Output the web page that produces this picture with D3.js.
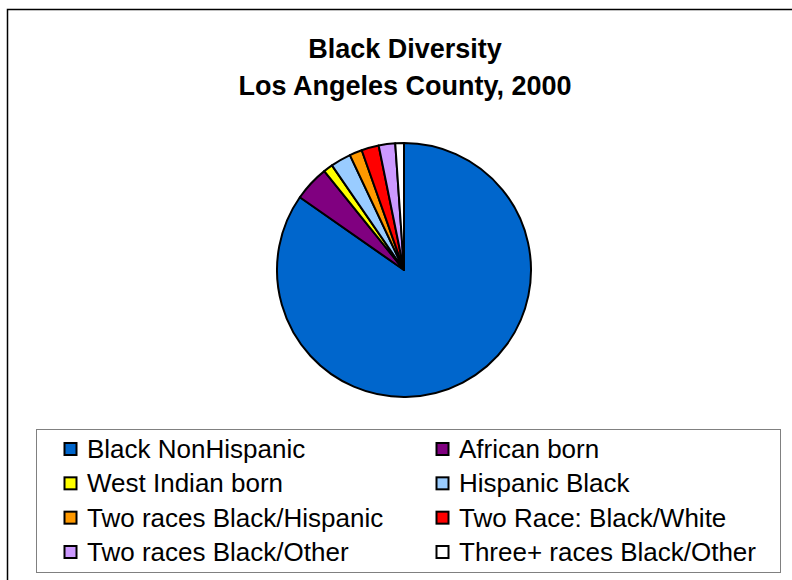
<!DOCTYPE html>
<html><head><meta charset="utf-8">
<script src="https://cdn.jsdelivr.net/npm/d3@7"></script>
<style>body{margin:0;background:#fff}svg{display:block}</style>
</head><body>
<script>
const categories = ["Black NonHispanic","African born","West Indian born","Hispanic Black","Two races Black/Hispanic","Two Race: Black/White","Two races Black/Other","Three+ races Black/Other"];
const values = [84.7, 4.5, 1.2, 2.6, 1.6, 2.2, 2.1, 1.1];
const colors = ["#0066CC","#800080","#FFFF00","#99CCFF","#FF9900","#FF0000","#CC99FF","#FFFFFF"];
const titleLines = ["Black Diversity","Los Angeles County, 2000"];

const W = 792, H = 580;
const svg = d3.select("body").append("svg").attr("width", W).attr("height", H);
svg.append("rect").attr("width", W).attr("height", H).attr("fill", "#fff");
svg.append("rect").attr("x", 7.5).attr("y", 9.5).attr("width", W + 10).attr("height", H + 10)
  .attr("fill", "none").attr("stroke", "#000").attr("stroke-width", 1.5);

const title = svg.append("text").attr("text-anchor", "middle")
  .attr("font-family", "Liberation Sans, Arial, sans-serif").attr("font-weight", "bold").attr("font-size", 27);
titleLines.forEach((t, i) => title.append("tspan").attr("x", 405).attr("y", 58 + i * 37).text(t));

const pie = d3.pie().sort(null).value(d => d)(values);
const arc = d3.arc().innerRadius(0).outerRadius(127);
const g = svg.append("g").attr("transform", "translate(404,270)");
g.selectAll("path").data(pie).join("path")
  .attr("d", arc)
  .attr("fill", (d, i) => colors[i])
  .attr("stroke", "#000").attr("stroke-width", 2).attr("stroke-linejoin", "round");

svg.append("rect").attr("x", 36.5).attr("y", 429.5).attr("width", 744).attr("height", 143)
  .attr("fill", "#fff").attr("stroke", "#808080").attr("stroke-width", 1);

const colX = [64, 436];
const rowY = d3.scalePoint().domain(d3.range(4)).range([449, 552]);
const items = svg.selectAll("g.li").data(categories).join("g").attr("class", "li")
  .attr("transform", (d, i) => `translate(${colX[i % 2]},${rowY(Math.floor(i / 2))})`);
items.append("rect").attr("x", 0.5).attr("y", -6).attr("width", 12).attr("height", 12)
  .attr("fill", (d, i) => colors[i]).attr("stroke", "#000").attr("stroke-width", 2);
items.append("text").attr("x", 23).attr("y", 0).attr("dy", "0.35em")
  .attr("font-family", "Liberation Sans, Arial, sans-serif").attr("font-size", 26)
  .text(d => d);
</script>
</body></html>
